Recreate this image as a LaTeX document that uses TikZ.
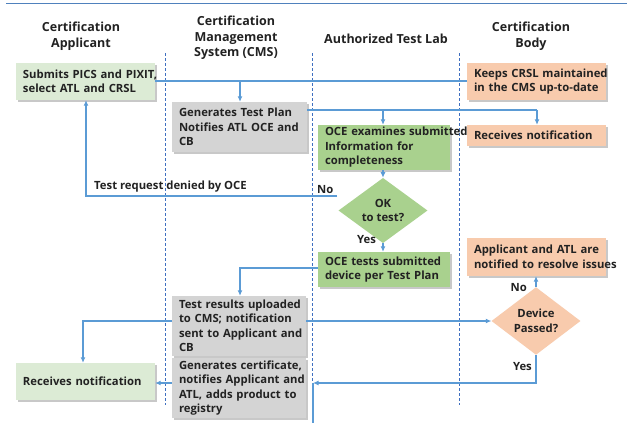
\documentclass[tikz,border=0pt]{standalone}
\usepackage{fontspec}
\setmainfont{Open Sans}
\usetikzlibrary{shapes.geometric,arrows.meta,shadows}
\definecolor{conn}{HTML}{5B9BD5}
\definecolor{lanec}{HTML}{3F6FC0}
\definecolor{topc}{HTML}{4F81BD}
\definecolor{lgreen}{HTML}{DCEBD5}
\definecolor{dgreen}{HTML}{A9D18E}
\definecolor{salmon}{HTML}{F8CBAD}
\definecolor{grayb}{HTML}{D4D4D4}
\definecolor{txt}{HTML}{222222}
\newcommand\Ln[1]{\mbox{#1}}
\tikzset{
  fnt/.style={font=\bfseries\fontsize{11.3}{14.5}\selectfont, text=txt},
  bx/.style={fnt, rectangle, align=left, inner xsep=7pt, inner ysep=2pt,
    drop shadow={shadow xshift=1.6pt, shadow yshift=-1.6pt, opacity=0.3, fill=black!70}},
  dia/.style={fnt, diamond, align=center, inner sep=0pt},
  hdr/.style={font=\bfseries\fontsize{12.5}{15.5}\selectfont, text=txt, align=center, inner sep=0pt},
  lbl/.style={fnt, inner sep=0pt},
  conn/.style={draw=conn, line width=1.3pt},
  arr/.style={conn, -{Latex[length=5.5pt,width=5pt]}},
  lane/.style={draw=lanec, line width=1pt, dash pattern=on 3pt off 2pt},
}
\begin{document}
\begin{tikzpicture}[x=1pt,y=-1pt]
\useasboundingbox (0,0) rectangle (627,423);
\fill[white] (0,0) rectangle (627,423);
\draw[topc, line width=1.6pt] (6,3.5) -- (627,3.5);

% headers
\node[hdr] (hA) at (81,36) {Certification\\Applicant};
\node[hdr] (hC) at (236,38) {Certification\\Management\\System (CMS)};
\node[hdr] (hT) at (386,39) {Authorized Test Lab};
\node[hdr] (hB) at (531,36) {Certification\\Body};

% lanes
\draw[lane] (165,53) -- (165,405);
\draw[lane] (312,53) -- (312,383);
\draw[lane] (459,53) -- (459,405);

% boxes
\node[bx, fill=lgreen, minimum width=139, minimum height=37, text width=125] (submit) at (85.5,81.5)
  {\Ln{Submits PICS and PIXIT,}\\\Ln{select ATL and CRSL}};
\node[bx, fill=grayb, minimum width=135, minimum height=50, text width=121] (gtp) at (239.5,127)
  {\Ln{Generates Test Plan}\\\Ln{Notifies ATL OCE and}\\CB};
\node[bx, fill=salmon, minimum width=139, minimum height=37, text width=125] (keeps) at (536.5,81.5)
  {\Ln{Keeps CRSL maintained}\\\Ln{in the CMS up-to-date}};
\node[bx, fill=dgreen, minimum width=132, minimum height=45, text width=118] (oce) at (384,147.5)
  {\Ln{OCE examines submitted}\\\Ln{Information for}\\completeness};
\node[bx, fill=salmon, minimum width=139, minimum height=21, text width=125] (rcb) at (536.5,135.5)
  {\Ln{Receives notification}};
\node[dia, fill=dgreen, minimum width=89, minimum height=35] (okd) at (383,210.5) {OK\\to test?};
\node[bx, fill=dgreen, minimum width=132, minimum height=35, text width=118] (tests) at (384,269.5)
  {\Ln{OCE tests submitted}\\\Ln{device per Test Plan}};
\node[bx, fill=salmon, minimum width=139, minimum height=38, text width=125] (notif) at (536.5,257)
  {\Ln{Applicant and ATL are}\\\Ln{notified to resolve issues}};
\node[dia, fill=salmon, minimum width=89, minimum height=53] (devd) at (536,321) {Device\\Passed?};
\node[bx, fill=grayb, minimum width=134, minimum height=60, text width=120] (results) at (239,326)
  {\Ln{Test results uploaded}\\\Ln{to CMS; notification}\\\Ln{sent to Applicant and}\\CB};
\node[bx, fill=grayb, minimum width=134, minimum height=60, text width=120] (cert) at (239,388)
  {\Ln{Generates certificate,}\\\Ln{notifies Applicant and}\\\Ln{ATL, adds product to}\\registry};
\node[bx, fill=lgreen, minimum width=139, minimum height=37, text width=125] (rcvA) at (85.5,381.5)
  {\Ln{Receives notification}};

% connectors
\coordinate (j1) at (240,81);
\draw[conn] (submit.east |- j1) -- (keeps.west |- j1);
\draw[arr] (j1) -- (j1 |- gtp.north);
\coordinate (j2) at (383,110);
\coordinate (j3) at (537,110);
\draw[conn] (gtp.east |- j2) -- (j3);
\draw[arr] (j3) -- (j3 |- rcb.north);
\draw[arr] (j2) -- (j2 |- oce.north);
\draw[arr] (okd.north |- oce.south) -- (okd.north);
\coordinate (n1) at (337,196);
\coordinate (n2) at (86,196);
\draw[arr] (n1) -- (n2) -- (n2 |- submit.south);
\node[lbl, anchor=west] (no1) at (317,190) {No};
\node[lbl, anchor=west] (deny) at (94,187) {Test request denied by OCE};
\draw[arr] (okd.south) -- (okd.south |- tests.north);
\node[lbl, anchor=west] (yes1) at (357,240) {Yes};
\coordinate (t1) at (240,268);
\draw[arr] (tests.west |- t1) -- (t1) -- (t1 |- results.north);
\coordinate (r1) at (83,321);
\draw[arr] (results.west |- r1) -- (r1) -- (r1 |- rcvA.north);
\draw[arr] (results.east |- r1) -- (devd.west);
\draw[arr] (devd.north) -- (devd.north |- notif.south);
\node[lbl, anchor=east] (no2) at (527,288) {No};
\coordinate (p1) at (536,383);
\coordinate (p2) at (313,383);
\coordinate (p3) at (313,423);
\draw[arr] (devd.south) -- (p1) -- (p2);
\draw[conn] (p2) -- (p3);
\node[lbl, anchor=east] (yes2) at (532,367) {Yes};
\draw[arr] (cert.west |- p1) -- (rcvA.east |- p1);
\end{tikzpicture}
\end{document}
